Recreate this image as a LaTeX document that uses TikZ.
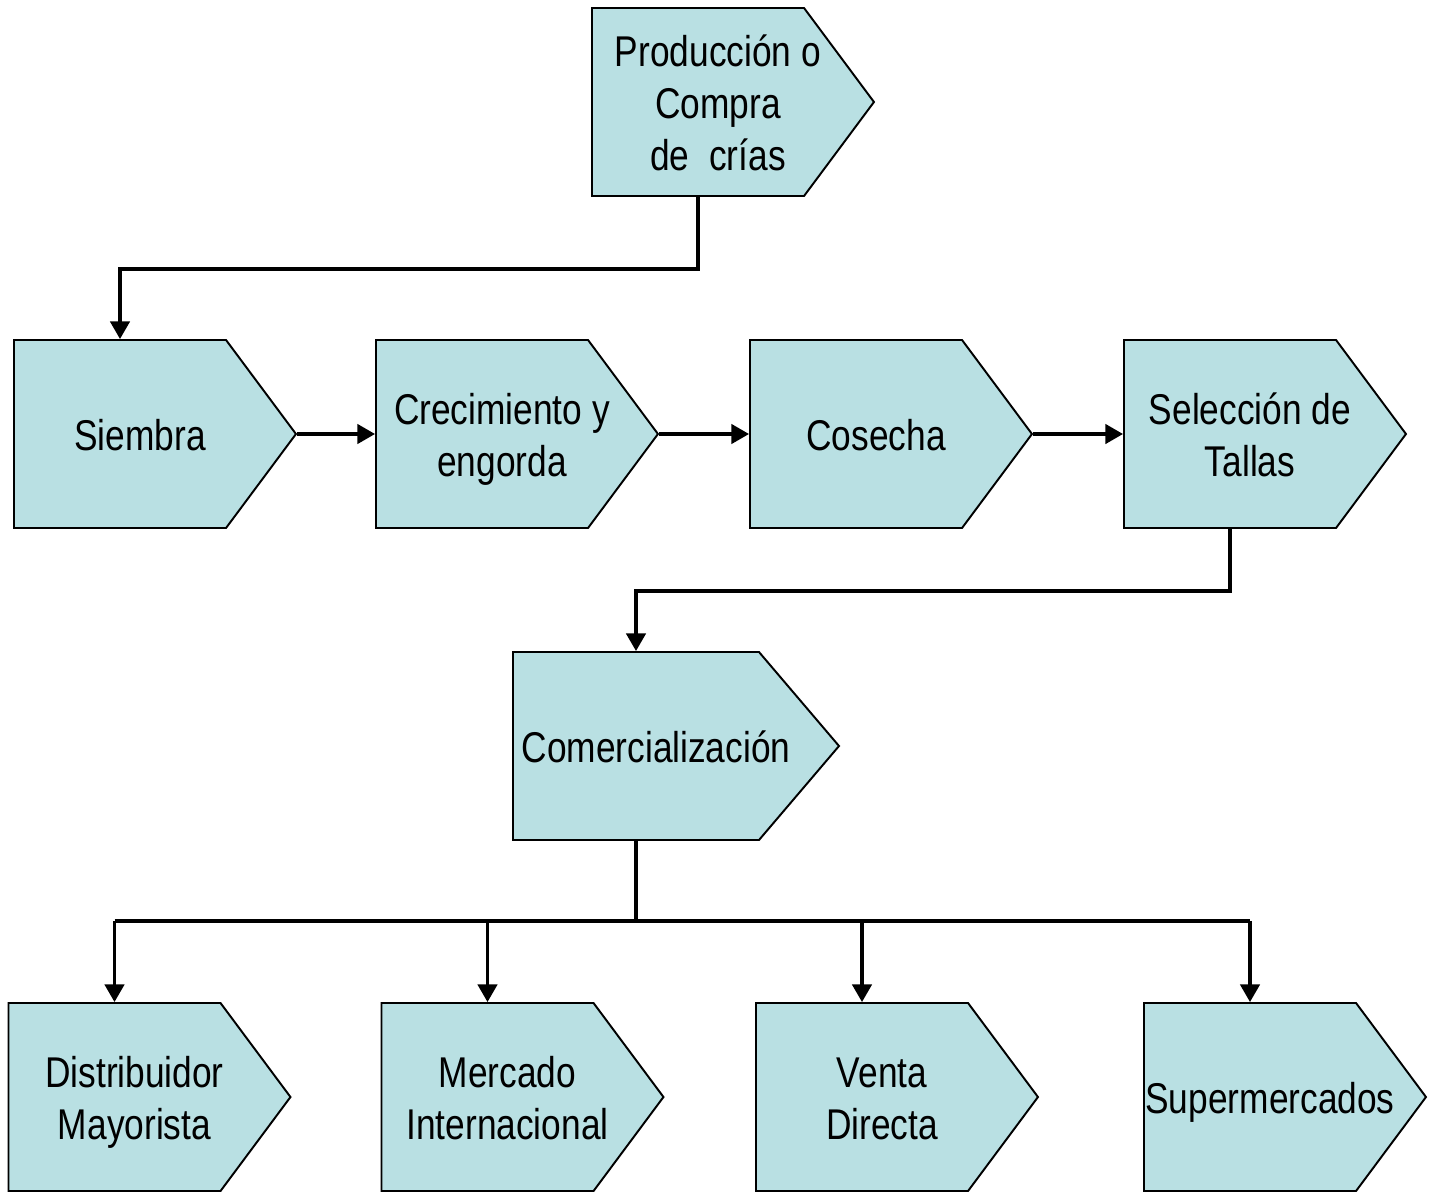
\documentclass[tikz,border=0pt]{standalone}
\usepackage{fontspec}
\setmainfont{Liberation Sans}[FakeStretch=0.82]
\usepackage{tikz}
\usetikzlibrary{shapes.symbols,arrows.meta}
\definecolor{stagefill}{HTML}{B9E0E3}

% text sits a little right of and below the box centre and may run into the tip
\newcommand{\stagetext}[1]{\makebox[0pt]{\hspace{8mm}\raisebox{0pt}[\dimexpr\height+2.4mm\relax][\depth]{\begin{tabular}{@{}c@{}}#1\end{tabular}}}}

\tikzset{
  stage/.style={signal, signal to=east, signal from=nowhere,
    signal pointer angle=106.7, minimum width=5.64cm, minimum height=3.76cm,
    fill=stagefill, draw=black, line width=1.1pt, inner sep=0pt,
    font=\fontsize{24.5}{29.5}\selectfont},
  flow/.style={line width=1.8pt}
}

\begin{document}
\begin{tikzpicture}[>={Triangle[length=10pt,width=11pt]}]
  \useasboundingbox (0,0) rectangle (28.72,-23.84);
  % first row
  \node[stage] (prod) at (13.96,-2.04) {\stagetext{Producción o\\Compra\\de\ \ crías}};
  % second row
  \node[stage] (siembra) at (2.40,-8.68) {\stagetext{Siembra}};
  \node[stage] (crec) at (9.64,-8.68) {\stagetext{Crecimiento y\\engorda}};
  \node[stage] (cosecha) at (17.12,-8.68) {\stagetext{Cosecha}};
  \node[stage] (selec) at (24.60,-8.68) {\stagetext{Selección de\\Tallas}};
  % third row
  \node[stage, minimum width=6.52cm, signal pointer angle=99.2] (comerc) at (12.72,-14.92) {\stagetext{Comercialización}};
  % last row
  \node[stage] (distrib) at (2.29,-21.94) {\stagetext{Distribuidor\\Mayorista}};
  \node[stage] (mercado) at (9.75,-21.94) {\stagetext{Mercado\\Internacional}};
  \node[stage] (venta) at (17.24,-21.94) {\stagetext{Venta\\Directa}};
  \node[stage] (super) at (25.00,-21.94) {\stagetext{Supermercados}};
  % connectors
  \draw[flow, ->] (prod.south) -- ++(0,-1.44) -| (siembra.north);
  \draw[flow, ->] (siembra.east) -- (crec.west);
  \draw[flow, ->] (crec.east) -- (cosecha.west);
  \draw[flow, ->] (cosecha.east) -- (selec.west);
  \draw[flow, ->] (selec.south) -- ++(0,-1.24) -| (comerc.north);
  \draw[flow] (comerc.south) -- ++(0,-1.6) coordinate (hub);
  \draw[flow] (distrib.north |- hub) -- (super.north |- hub);
  \foreach \n in {distrib, mercado, venta, super}
    \draw[flow, ->] (\n.north |- hub) -- (\n.north);
\end{tikzpicture}
\end{document}
